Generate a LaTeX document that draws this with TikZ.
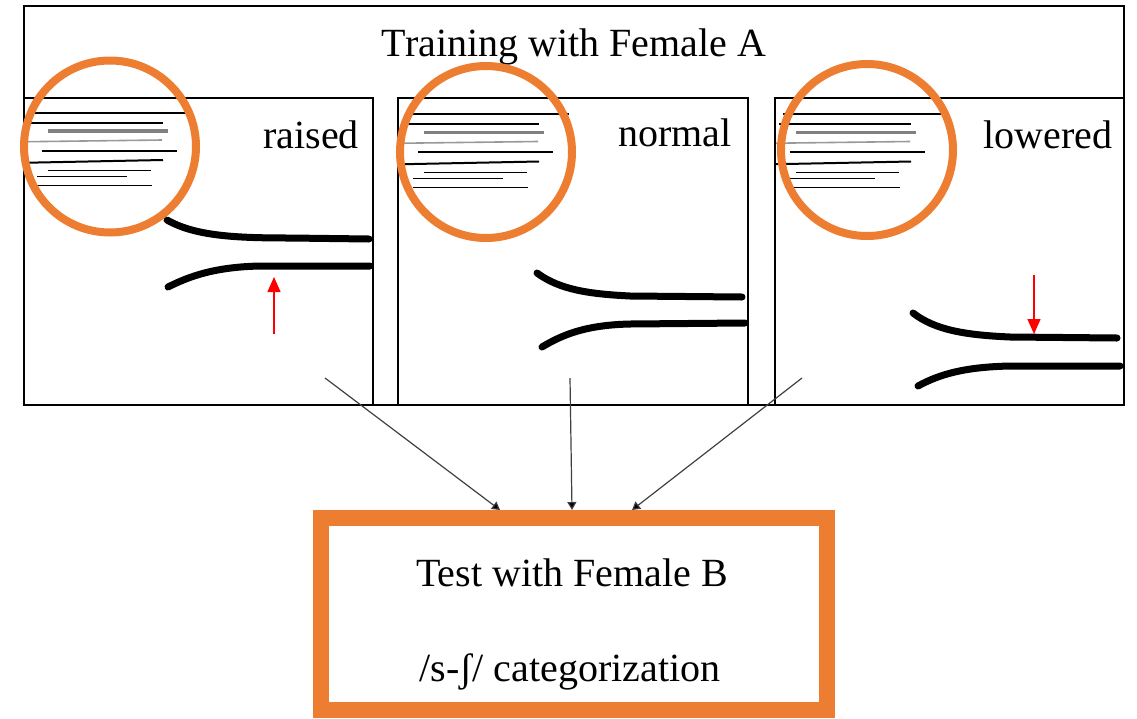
\documentclass[tikz,border=0pt]{standalone}
\usepackage{fontspec}
\setmainfont{Liberation Serif}
\usetikzlibrary{arrows.meta}
\definecolor{orng}{RGB}{237,125,49}
\begin{document}
\begin{tikzpicture}[x=1pt,y=-1pt,
  frame/.style={draw=black,line width=2pt,inner sep=0pt},
  panel/.style={frame,minimum height=307pt},
  ring/.style={draw=orng,line width=8pt,circle,minimum size=172pt,inner sep=0pt},
  formant/.style={line width=7pt,line cap=round},
  lbl/.style={font=\fontsize{40}{48}\selectfont,inner sep=0pt,anchor=base},
  conn/.style={draw=black!75,line width=1.2pt,-{Triangle[width=9pt,length=8pt,fill=black]}},
  redarr/.style={draw=red,fill=red,line width=1.5pt,-{Triangle[width=13pt,length=15pt]}},
  txt/.style={line width=2pt},
  txtthin/.style={line width=1.3pt}
]
\useasboundingbox (0,0) rectangle (1137,718);
% outer frame and title
\node[frame,minimum width=1100pt,minimum height=399pt] (outer) at (574,205.5) {};
\node[lbl] (title) at (574,56) {Training with Female A};
% panels
\node[panel,minimum width=349pt] (p1) at (198.5,251.5) {};
\node[panel,minimum width=350pt] (p2) at (573,251.5) {};
\node[panel,minimum width=349pt] (p3) at (949.5,251.5) {};
\node[lbl] (l1) at (311,148) {raised};
\node[lbl] (l2) at (675,146) {normal};
\node[lbl] (l3) at (1048,148) {lowered};
% text lines inside the magnifier
\foreach \dx/\dy in {0/0,376/1.5,748/1.5}{
\begin{scope}[shift={(\dx,\dy)}]
\draw[txt] (35,112.7) -- (193,112.7);
\draw[txt] (31,122.7) -- (163,122.7);
\draw[line width=3.5pt,black!50] (48,131) -- (168,131);
\draw[line width=1.6pt,black!40] (28,141.7) -- (162,140);
\draw[txt] (42,150.7) -- (177,150.7);
\draw[txt] (28,162.7) -- (163,160);
\draw[txtthin] (48,170.7) -- (151,170.7);
\draw[txtthin] (37,176.7) -- (127,176.7);
\draw[txtthin] (37,185.7) -- (152,185.7);
\end{scope}}
% formant curves
\draw[formant] (167,220) .. controls (195,236) and (235,238) .. (290,238) -- (369,239);
\draw[formant] (168,287) .. controls (190,276) and (215,267) .. (260,266) -- (370,266);
\draw[formant] (537,273) .. controls (560,290) and (590,294) .. (630,296) -- (742,297);
\draw[formant] (542,347) .. controls (562,335) and (585,325) .. (630,324) -- (745,323);
\draw[formant] (913,313) .. controls (935,330) and (965,335) .. (1010,337) -- (1117,338);
\draw[formant] (918,386) .. controls (940,374) and (965,367) .. (1010,366) -- (1120,366);
% magnifier circles
\node[ring] (c1) at (110,146.5) {};
\node[ring] (c2) at (486,152) {};
\node[ring] (c3) at (867,150) {};
% red arrows
\coordinate (r1a) at (274,334);
\coordinate (r1b) at (274,277);
\coordinate (r3a) at (1034,275);
\coordinate (r3b) at (1034,334);
\draw[redarr] (r1a) -- (r1b);
\draw[redarr] (r3a) -- (r3b);
% test box
\node[draw=orng,line width=16pt,minimum width=506pt,minimum height=192pt,inner sep=0pt] (test) at (574,614) {};
\node[lbl] (t1) at (572,586) {Test with Female B};
\node[lbl] (t2) at (570,681) {/s-ʃ/ categorization};
% connectors
\coordinate (s1) at (325,378);
\coordinate (s2) at (570,378);
\coordinate (s3) at (802,378);
\coordinate (e1) at (500,510);
\coordinate (e2) at (572,510);
\coordinate (e3) at (632,510);
\draw[conn] (s1) -- (e1);
\draw[conn] (s2) -- (e2);
\draw[conn] (s3) -- (e3);
\end{tikzpicture}
\end{document}
